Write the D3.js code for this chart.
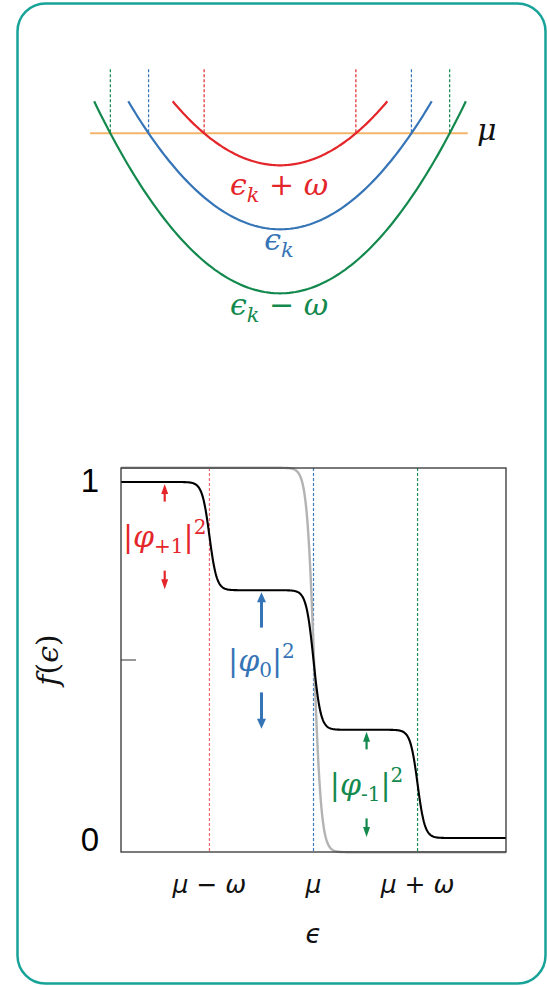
<!DOCTYPE html>
<html>
<head>
<meta charset="utf-8">
<script src="https://cdn.jsdelivr.net/npm/d3@7"></script>
<style>
  body { margin: 0; background: #fff; }
  svg { display: block; }
</style>
</head>
<body>
<script>
// ---- Band picture: ε_k = k² + ε0, and its copies shifted by ±ω (energies in units of ω, μ = 0)
const bandShifts = [1, 0, -1];
const bandColors = ["#e4262b", "#3574b6", "#13894e"];
const markerColors = ["#ee6a6e", "#3f7cbc", "#1b9058"];
const bandLabelMain = ["ϵ", "ϵ", "ϵ"];
const bandLabelSub = ["k", "k", "k"];
const bandLabelOp = [" + ", "", " − "];
const bandLabelTail = ["ω", "", "ω"];
const bandBottom = -1.5;      // minimum of ε_k relative to μ
const chemPot = 0;            // μ
const bandCutoff = 0.5;       // energy at which each parabola is cut
const markerTop = 1.0;        // upper end of the dashed Fermi-point markers
const muLineK = [-1.77, 1.75];

// ---- Distribution panel (ε in units of ω, measured from μ)
const stepPositions = [-1, 0, 1];          // μ−ω, μ, μ+ω
const plateaus = [1, 0.696, 0.304, 0];     // f(ϵ) between the steps
const eqLevels = [1.04, -0.04];            // equilibrium step, drawn edge to edge
const temperature = 0.035;
const xTickLabels = ["μ − ω", "μ", "μ + ω"];
const yTickValues = [0, 0.5, 1];
const yTickLabels = ["0", "", "1"];
const weightSubs = ["+1", "0", "-1"];
const arrowX = [-1.43, -0.50, 0.51];
const arrowLen = [0.055, 0.105, 0.055];

const W = 547, H = 986;
const svg = d3.select("body").append("svg").attr("width", W).attr("height", H);

// outer card
svg.append("rect")
  .attr("x", 17.5).attr("y", 3.5).attr("width", 528).attr("height", 980)
  .attr("rx", 28).attr("ry", 28)
  .attr("fill", "#fff").attr("stroke", "#17a398").attr("stroke-width", 2.5);

// ================= upper panel: parabolas =================
const kx = d3.scaleLinear().domain([-1, 1]).range([280 - 107.3, 280 + 107.3]);
const ey = d3.scaleLinear().domain([0, 1]).range([133.3, 69.3]);
const bands = svg.append("g");

// chemical potential line
bands.append("line")
  .attr("x1", kx(muLineK[0])).attr("x2", kx(muLineK[1]))
  .attr("y1", ey(chemPot)).attr("y2", ey(chemPot))
  .attr("stroke", "#f3b56c").attr("stroke-width", 2);

const serif = "'DejaVu Serif', serif";
bands.append("text")
  .attr("x", 477).attr("y", ey(chemPot) + 7)
  .attr("font-family", serif).attr("font-style", "italic").attr("font-size", 30)
  .attr("fill", "#111").text("μ");

const line = d3.line().x(d => kx(d[0])).y(d => ey(d[1]));

bandShifts.forEach((s, i) => {
  const e0 = bandBottom + s;
  const kmax = Math.sqrt(bandCutoff - e0);
  const pts = d3.range(0, 121).map(j => {
    const k = -kmax + 2 * kmax * j / 120;
    return [k, k * k + e0];
  });
  // Fermi points
  const kf = Math.sqrt(chemPot - e0);
  [-kf, kf].forEach(k => {
    bands.append("line")
      .attr("x1", kx(k)).attr("x2", kx(k))
      .attr("y1", ey(markerTop)).attr("y2", ey(chemPot))
      .attr("stroke", bandColors[i]).attr("stroke-width", 1.2)
      .attr("stroke-dasharray", "3,2");
  });
  bands.append("path").datum(pts).attr("d", line)
    .attr("fill", "none").attr("stroke", bandColors[i]).attr("stroke-width", 2.2);
});

// band labels
const labelBase = [195, 250, 315];
bandShifts.forEach((s, i) => {
  const t = bands.append("text")
    .attr("x", 279).attr("y", labelBase[i])
    .attr("text-anchor", "middle")
    .attr("font-family", serif).attr("font-size", 30)
    .attr("fill", bandColors[i]);
  t.append("tspan").attr("font-style", "italic").text(bandLabelMain[i]);
  t.append("tspan").attr("font-style", "italic").attr("font-size", 21).attr("dy", 7).text(bandLabelSub[i]);
  if (bandLabelTail[i]) {
    t.append("tspan").attr("dy", -7).text(bandLabelOp[i]);
    t.append("tspan").attr("font-style", "italic").text(bandLabelTail[i]);
  }
});

// ================= lower panel: distribution =================
const x = d3.scaleLinear().domain([-1.85, 1.85]).range([121, 506]);
const y = d3.scaleLinear().domain([0, 1]).range([838, 482]);
const box = { x0: 121, x1: 506, y0: 468, y1: 852 };
const bot = svg.append("g");

const fermi = (e, T) => 1 / (1 + Math.exp(e / T));
const xs = d3.range(0, 741).map(j => -1.85 + 3.7 * j / 740);

// dashed step markers
stepPositions.forEach((p, i) => {
  bot.append("line")
    .attr("x1", x(p)).attr("x2", x(p)).attr("y1", box.y0).attr("y2", box.y1)
    .attr("stroke", markerColors[i]).attr("stroke-width", 1.2)
    .attr("stroke-dasharray", "3,2");
});

const cl = d3.line().x(d => x(d[0])).y(d => y(d[1]));

// equilibrium step
const eq = xs.map(e => [e, eqLevels[1] + (eqLevels[0] - eqLevels[1]) * fermi(e - 0.005, temperature)]);
bot.append("path").datum(eq).attr("d", cl)
  .attr("fill", "none").attr("stroke", "#b3b3b3").attr("stroke-width", 2.4);

// driven distribution
const fd = xs.map(e => {
  let v = plateaus[plateaus.length - 1];
  stepPositions.forEach((p, i) => { v += (plateaus[i] - plateaus[i + 1]) * fermi(e - p, temperature); });
  return [e, v];
});
bot.append("path").datum(fd).attr("d", cl)
  .attr("fill", "none").attr("stroke", "#000").attr("stroke-width", 2.1);

// frame
bot.append("rect")
  .attr("x", box.x0).attr("y", box.y0)
  .attr("width", box.x1 - box.x0).attr("height", box.y1 - box.y0)
  .attr("fill", "none").attr("stroke", "#333").attr("stroke-width", 1.3);

// y ticks
yTickValues.forEach((v, i) => {
  if (yTickLabels[i] === "") {
    bot.append("line").attr("x1", box.x0).attr("x2", box.x0 + 15)
      .attr("y1", y(v)).attr("y2", y(v)).attr("stroke", "#333").attr("stroke-width", 1);
  } else {
    bot.append("text")
      .attr("x", 90).attr("y", y(v) + (v === 1 ? 10 : 13))
      .attr("text-anchor", "middle")
      .attr("font-family", "'Liberation Sans', Arial, sans-serif")
      .attr("font-size", 33).attr("fill", "#000")
      .text(yTickLabels[i]);
  }
});

// x tick labels
const sans = "'DejaVu Sans', sans-serif";
stepPositions.forEach((p, i) => {
  bot.append("text")
    .attr("x", x(p)).attr("y", 893)
    .attr("text-anchor", "middle")
    .attr("font-family", sans).attr("font-style", "oblique")
    .attr("font-size", 25).attr("fill", "#111")
    .text(xTickLabels[i]);
});
bot.append("text")
  .attr("x", x(0)).attr("y", 943).attr("text-anchor", "middle")
  .attr("font-family", sans).attr("font-style", "oblique")
  .attr("font-size", 26).attr("fill", "#111").text("ϵ");

// y label
const yl = bot.append("text")
  .attr("transform", "translate(58,660) rotate(-90)")
  .attr("text-anchor", "middle")
  .attr("font-family", serif).attr("font-size", 30).attr("fill", "#111");
yl.append("tspan").attr("font-style", "italic").text("f");
yl.append("tspan").text("(");
yl.append("tspan").attr("font-style", "italic").text("ϵ");
yl.append("tspan").text(")");

// weight arrows and labels
function arrow(xp, yTail, yTip, color, w, hw, hl) {
  const dir = yTip < yTail ? -1 : 1;
  bot.append("line").attr("x1", xp).attr("x2", xp)
    .attr("y1", yTail).attr("y2", yTip - dir * hl * 0.8)
    .attr("stroke", color).attr("stroke-width", w);
  bot.append("path")
    .attr("d", `M${xp},${yTip} L${xp - hw / 2},${yTip - dir * hl} L${xp + hw / 2},${yTip - dir * hl} Z`)
    .attr("fill", color);
}
stepPositions.forEach((p, i) => {
  const hi = plateaus[i], lo = plateaus[i + 1];
  const xp = x(arrowX[i]);
  const c = bandColors[i];
  const w = i === 1 ? 3 : 2.2, hw = i === 1 ? 9 : 7, hl = 10;
  arrow(xp, y(hi - arrowLen[i]), y(hi) + 2, c, w, hw, hl);
  arrow(xp, y(lo + arrowLen[i]), y(lo) - 1, c, w, hw, hl);
  const t = bot.append("text")
    .attr("x", xp).attr("y", y((hi + lo) / 2) + 11)
    .attr("text-anchor", "middle")
    .attr("font-family", serif).attr("font-size", 30).attr("fill", c);
  t.append("tspan").text("|");
  t.append("tspan").attr("font-style", "italic").text("φ");
  t.append("tspan").attr("font-size", 20).attr("dy", 6).text(weightSubs[i]);
  t.append("tspan").attr("dy", -6).text("|");
  t.append("tspan").attr("font-size", 20).attr("dy", -13).text("2");
});
</script>
</body>
</html>
